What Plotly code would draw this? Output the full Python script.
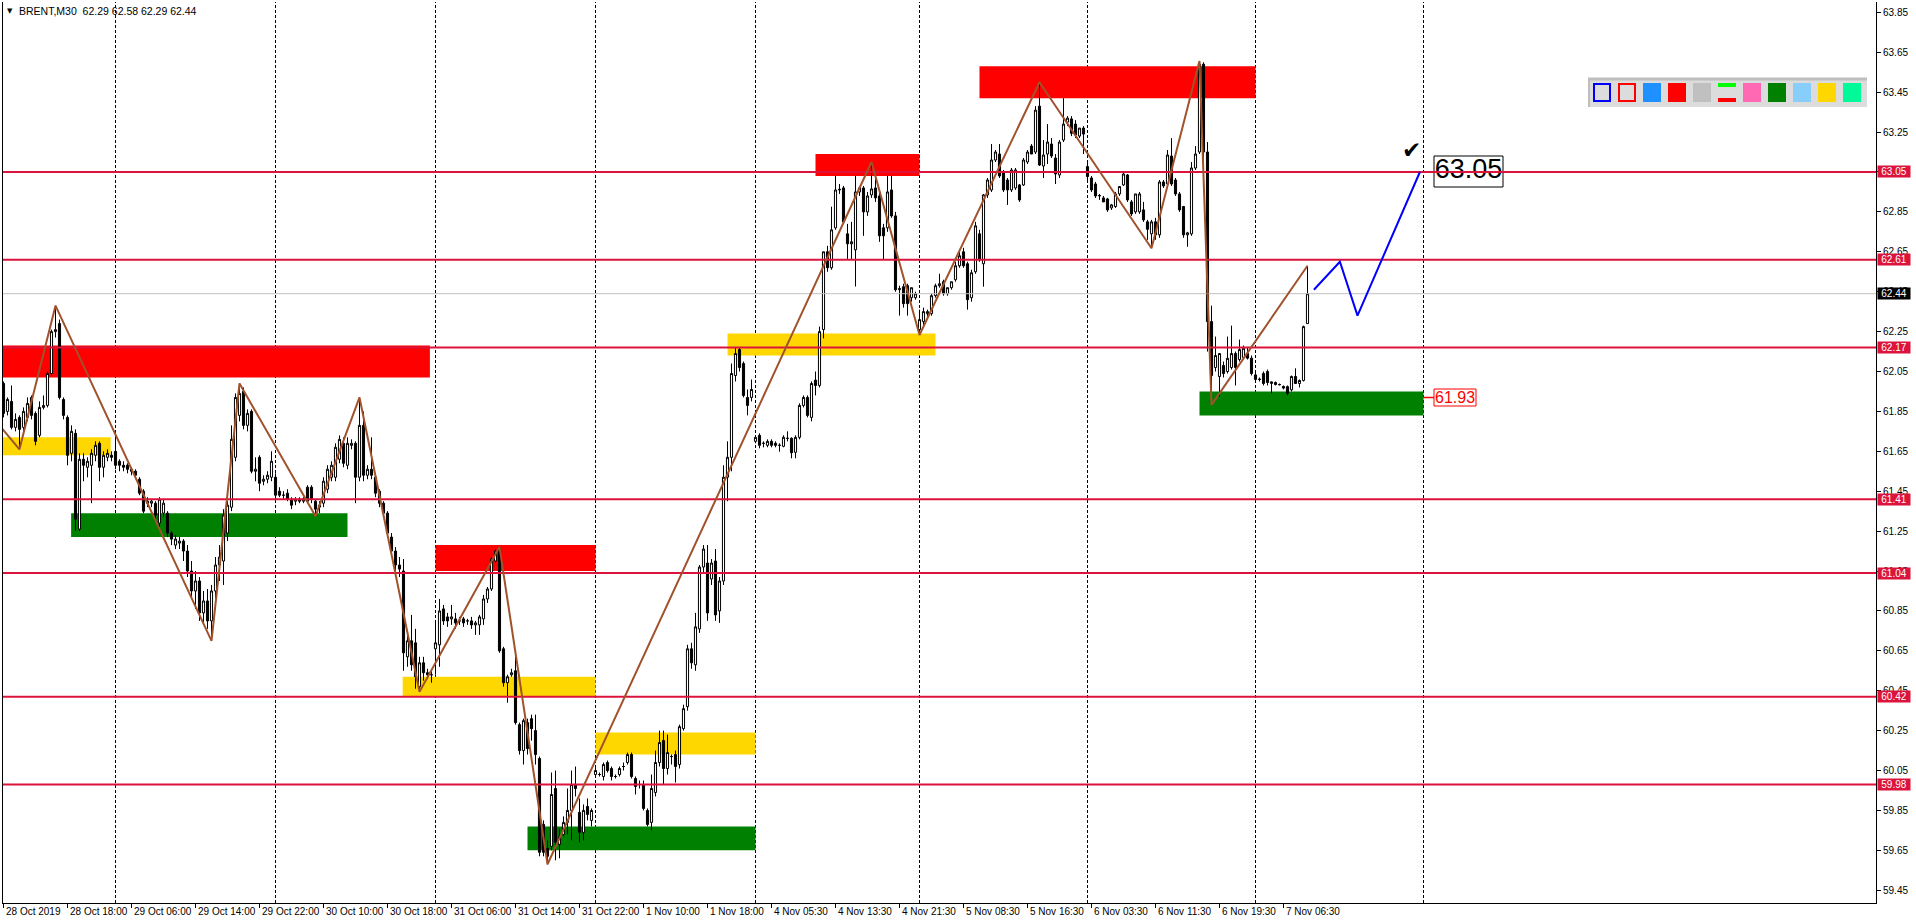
import plotly.graph_objects as go

# ---------------- data (BRENT M30, bar index 0 = 28 Oct 2019 10:00) ----------------
opens = [
    61.99, 61.85, 61.90, 61.77, 61.82, 61.77, 61.82, 61.92, 61.84, 61.73,
    61.87, 61.88, 62.04, 62.25, 62.29, 61.91, 61.82, 61.64, 61.74, 61.26,
    61.61, 61.57, 61.58, 61.63, 61.69, 61.57, 61.62, 61.63, 61.65, 61.60,
    61.58, 61.58, 61.56, 61.55, 61.51, 61.45, 61.40, 61.39, 61.39, 61.29,
    61.34, 61.34, 61.24, 61.18, 61.19, 61.20, 61.15, 61.05, 60.95, 61.00,
    60.84, 60.90, 60.80, 60.95, 61.08, 61.10, 61.24, 61.37, 61.62, 61.83,
    61.95, 61.78, 61.85, 61.55, 61.62, 61.50, 61.51, 61.52, 61.52, 61.45,
    61.43, 61.44, 61.41, 61.40, 61.41, 61.40, 61.47, 61.47, 61.40, 61.37,
    61.39, 61.46, 61.52, 61.52, 61.61, 61.69, 61.58, 61.68, 61.69, 61.52,
    61.78, 61.53, 61.56, 61.52, 61.45, 61.39, 61.34, 61.22, 61.15, 61.08,
    61.05, 60.62, 60.70, 60.69, 60.47, 60.59, 60.54, 60.53, 60.66, 60.68,
    60.86, 60.82, 60.81, 60.81, 60.80, 60.81, 60.80, 60.80, 60.78, 60.78,
    60.81, 60.91, 60.96, 61.10, 61.16, 60.66, 60.49, 60.53, 60.55, 60.28,
    60.15, 60.29, 60.31, 60.25, 60.11, 59.78, 59.66, 59.67, 59.96, 59.68,
    59.73, 59.79, 59.85, 59.98, 59.84, 59.74, 59.87, 59.80, 60.03, 60.03,
    60.02, 60.09, 60.06, 60.02, 60.03, 60.07, 60.09, 60.13, 60.01, 59.98,
    59.98, 59.85, 59.79, 59.94, 60.09, 60.20, 60.06, 60.12, 60.13, 60.08,
    60.26, 60.37, 60.66, 60.58, 60.76, 61.07, 61.09, 61.01, 61.10, 60.85,
    61.00, 61.52, 61.62, 62.03, 62.16, 62.09, 61.92, 61.92, 61.70, 61.73,
    61.69, 61.68, 61.70, 61.69, 61.68, 61.675, 61.715, 61.715, 61.645, 61.72,
    61.88, 61.92, 61.82, 62.007, 61.98, 62.26, 62.65, 62.57, 62.77, 62.96,
    62.97, 62.74, 62.69, 62.66, 62.95, 62.97, 62.85, 62.935, 62.97, 62.93,
    62.77, 62.77, 62.96, 62.83, 62.46, 62.475, 62.48, 62.42, 62.42, 62.26,
    62.30, 62.34, 62.34, 62.43, 62.48, 62.50, 62.44, 62.47, 62.51, 62.58,
    62.65, 62.59, 62.42, 62.55, 62.74, 62.59, 62.935, 62.96, 63.11, 63.14,
    63.05, 63.01, 62.96, 62.97, 62.985, 62.985, 63.10, 63.18, 63.15, 63.38,
    63.08, 63.14, 63.19, 63.12, 63.035, 63.21, 63.30, 63.316, 63.29, 63.23,
    63.27, 63.077, 63.02, 62.99, 62.93, 62.92, 62.915, 62.87, 62.877, 62.94,
    62.985, 63.035, 62.90, 62.85, 62.85, 62.86, 62.80, 62.74, 62.80, 62.735,
    63.00, 62.99, 63.13, 63.01, 62.94, 62.877, 62.735, 62.74, 63.07, 63.15,
    63.59, 63.15, 62.30, 62.07, 62.025, 62.08, 62.05, 62.07, 62.14, 62.11,
    62.12, 62.14, 62.117, 62.033, 62.012, 62.04, 62.05, 61.99, 61.995, 61.985,
    61.975, 61.974, 61.958, 62.025, 61.99, 62.005, 62.29,
]
highs = [
    62.00, 61.92, 61.98, 61.84, 61.83, 61.87, 61.92, 61.93, 61.85, 61.90,
    61.93, 62.05, 62.26, 62.38, 62.31, 61.92, 61.83, 61.78, 61.76, 61.64,
    61.64, 61.62, 61.66, 61.70, 61.70, 61.65, 61.66, 61.65, 61.72, 61.61,
    61.60, 61.59, 61.57, 61.56, 61.52, 61.46, 61.42, 61.41, 61.40, 61.42,
    61.41, 61.35, 61.25, 61.23, 61.22, 61.21, 61.18, 61.10, 61.05, 61.02,
    60.95, 60.96, 60.98, 61.12, 61.18, 61.36, 61.40, 61.78, 61.94, 61.99,
    61.97, 61.86, 61.86, 61.62, 61.63, 61.53, 61.55, 61.65, 61.54, 61.47,
    61.45, 61.46, 61.42, 61.42, 61.42, 61.42, 61.48, 61.48, 61.41, 61.40,
    61.52, 61.58, 61.60, 61.69, 61.73, 61.72, 61.72, 61.71, 61.70, 61.92,
    61.85, 61.58, 61.72, 61.53, 61.46, 61.40, 61.35, 61.24, 61.17, 61.12,
    61.11, 60.74, 60.83, 60.76, 60.62, 60.62, 60.56, 60.55, 60.79, 60.91,
    60.88, 60.84, 60.88, 60.84, 60.82, 60.82, 60.81, 60.82, 60.80, 60.83,
    60.93, 60.97, 61.12, 61.16, 61.17, 60.67, 60.53, 60.56, 60.62, 60.29,
    60.31, 60.31, 60.33, 60.33, 60.12, 59.80, 59.70, 60.04, 60.05, 59.76,
    59.82, 59.96, 60.05, 60.07, 59.91, 59.88, 59.91, 59.86, 60.07, 60.04,
    60.09, 60.10, 60.07, 60.03, 60.07, 60.09, 60.14, 60.14, 60.02, 60.00,
    60.00, 59.86, 60.03, 60.15, 60.25, 60.25, 60.23, 60.13, 60.15, 60.28,
    60.38, 60.68, 60.69, 60.84, 61.08, 61.18, 61.18, 61.11, 61.16, 61.02,
    61.58, 61.70, 62.09, 62.17, 62.17, 62.10, 61.96, 62.01, 61.73, 61.74,
    61.70, 61.71, 61.71, 61.70, 61.69, 61.73, 61.75, 61.72, 61.73, 61.89,
    61.93, 61.93, 62.00, 62.05, 62.275, 62.65, 62.68, 62.876, 63.03, 62.99,
    62.98, 62.79, 62.80, 63.03, 62.98, 62.98, 62.95, 63.10, 63.03, 62.95,
    62.79, 63.03, 63.03, 62.85, 62.48, 62.49, 62.49, 62.47, 62.45, 62.36,
    62.37, 62.36, 62.44, 62.49, 62.54, 62.51, 62.47, 62.50, 62.60, 62.66,
    62.67, 62.60, 62.56, 62.80, 62.76, 62.94, 63.02, 63.19, 63.16, 63.19,
    63.06, 63.02, 63.07, 63.07, 62.99, 63.12, 63.16, 63.19, 63.38, 63.50,
    63.21, 63.29, 63.22, 63.14, 63.21, 63.42, 63.33, 63.33, 63.31, 63.27,
    63.28, 63.10, 63.03, 63.00, 62.94, 62.93, 62.92, 62.89, 62.95, 62.98,
    63.05, 63.04, 62.91, 62.94, 62.95, 62.90, 62.81, 62.81, 62.82, 63.01,
    63.01, 63.16, 63.22, 63.02, 62.95, 62.88, 62.75, 63.10, 63.18, 63.606,
    63.60, 63.20, 62.38, 62.225, 62.14, 62.10, 62.225, 62.28, 62.15, 62.21,
    62.18, 62.17, 62.13, 62.05, 62.02, 62.05, 62.06, 62.00, 62.00, 61.99,
    61.98, 61.98, 62.03, 62.066, 62.01, 62.28, 62.58,
]
lows = [
    61.82, 61.83, 61.76, 61.75, 61.66, 61.74, 61.80, 61.81, 61.68, 61.72,
    61.86, 61.87, 62.03, 62.22, 61.91, 61.81, 61.58, 61.60, 61.25, 61.25,
    61.50, 61.52, 61.39, 61.60, 61.50, 61.52, 61.60, 61.60, 61.56, 61.55,
    61.55, 61.54, 61.53, 61.51, 61.43, 61.34, 61.37, 61.37, 61.31, 61.27,
    61.32, 61.22, 61.18, 61.16, 61.16, 61.10, 61.02, 60.92, 60.86, 60.80,
    60.78, 60.76, 60.70, 60.88, 61.00, 60.98, 61.20, 61.35, 61.60, 61.80,
    61.76, 61.75, 61.54, 61.50, 61.45, 61.48, 61.49, 61.50, 61.40, 61.42,
    61.41, 61.40, 61.36, 61.38, 61.39, 61.39, 61.39, 61.39, 61.325, 61.34,
    61.37, 61.44, 61.50, 61.50, 61.59, 61.57, 61.56, 61.66, 61.39, 61.50,
    61.50, 61.51, 61.51, 61.42, 61.37, 61.32, 61.22, 61.13, 61.05, 61.02,
    60.55, 60.57, 60.55, 60.46, 60.445, 60.50, 60.51, 60.49, 60.53, 60.57,
    60.78, 60.77, 60.78, 60.76, 60.78, 60.77, 60.78, 60.76, 60.73, 60.73,
    60.78, 60.89, 60.95, 61.09, 60.64, 60.47, 60.39, 60.52, 60.28, 60.13,
    60.08, 60.13, 60.20, 60.08, 59.62, 59.62, 59.58, 59.65, 59.60, 59.61,
    59.72, 59.73, 59.70, 59.92, 59.69, 59.70, 59.80, 59.77, 60.02, 60.02,
    60.00, 60.04, 60.00, 60.01, 60.02, 60.05, 60.08, 60.01, 59.93, 59.96,
    59.85, 59.77, 59.75, 59.92, 60.07, 59.98, 60.03, 60.08, 59.99, 60.06,
    60.25, 60.35, 60.56, 60.55, 60.74, 61.04, 60.80, 60.98, 60.80, 60.79,
    60.98, 61.40, 61.55, 62.00, 62.05, 61.92, 61.83, 61.90, 61.69, 61.665,
    61.67, 61.67, 61.67, 61.67, 61.648, 61.67, 61.70, 61.615, 61.615, 61.71,
    61.87, 61.82, 61.80, 61.93, 61.97, 62.216, 62.55, 62.56, 62.76, 62.94,
    62.79, 62.61, 62.61, 62.476, 62.93, 62.73, 62.83, 62.92, 62.90, 62.70,
    62.61, 62.75, 62.82, 62.45, 62.33, 62.37, 62.33, 62.40, 62.41, 62.233,
    62.28, 62.32, 62.33, 62.42, 62.47, 62.43, 62.43, 62.46, 62.50, 62.57,
    62.57, 62.36, 62.40, 62.54, 62.60, 62.475, 62.92, 62.95, 63.10, 63.02,
    62.95, 62.885, 62.95, 62.96, 62.90, 62.98, 63.09, 63.14, 63.14, 63.08,
    63.02, 63.09, 63.12, 62.99, 63.02, 63.20, 63.28, 63.23, 63.22, 63.22,
    63.14, 63.01, 62.95, 62.92, 62.91, 62.90, 62.85, 62.86, 62.87, 62.93,
    62.98, 62.90, 62.83, 62.84, 62.84, 62.80, 62.71, 62.668, 62.71, 62.72,
    62.97, 62.98, 62.98, 62.93, 62.85, 62.72, 62.675, 62.73, 63.06, 63.14,
    63.10, 62.15, 61.883, 62.05, 61.924, 62.02, 62.04, 62.06, 61.98, 62.10,
    62.11, 62.11, 62.03, 62.00, 62.00, 61.98, 61.98, 61.94, 61.98, 61.98,
    61.96, 61.93, 61.95, 61.99, 61.97, 62.00, 62.29,
]
closes = [
    61.84, 61.91, 61.77, 61.81, 61.76, 61.85, 61.89, 61.83, 61.70, 61.87,
    61.88, 62.04, 62.25, 62.26, 61.92, 61.83, 61.63, 61.75, 61.31, 61.61,
    61.58, 61.60, 61.64, 61.68, 61.57, 61.63, 61.64, 61.62, 61.58, 61.58,
    61.57, 61.56, 61.55, 61.53, 61.44, 61.35, 61.39, 61.40, 61.33, 61.41,
    61.39, 61.24, 61.21, 61.21, 61.20, 61.15, 61.05, 60.95, 61.00, 60.84,
    60.90, 60.80, 60.95, 61.08, 61.12, 61.33, 61.38, 61.71, 61.92, 61.94,
    61.78, 61.84, 61.55, 61.56, 61.49, 61.51, 61.53, 61.60, 61.43, 61.43,
    61.43, 61.41, 61.38, 61.41, 61.40, 61.41, 61.40, 61.41, 61.36, 61.38,
    61.50, 61.56, 61.58, 61.67, 61.71, 61.59, 61.69, 61.69, 61.52, 61.78,
    61.53, 61.56, 61.53, 61.44, 61.39, 61.34, 61.24, 61.15, 61.08, 61.06,
    60.64, 60.70, 60.58, 60.52, 60.59, 60.54, 60.53, 60.53, 60.69, 60.85,
    60.80, 60.80, 60.82, 60.79, 60.80, 60.79, 60.80, 60.78, 60.79, 60.82,
    60.91, 60.96, 61.11, 61.15, 60.65, 60.49, 60.52, 60.54, 60.29, 60.15,
    60.30, 60.16, 60.26, 60.13, 59.64, 59.64, 59.62, 59.93, 59.69, 59.72,
    59.79, 59.85, 59.98, 59.96, 59.74, 59.85, 59.83, 59.85, 60.05, 60.03,
    60.08, 60.05, 60.02, 60.02, 60.06, 60.07, 60.13, 60.02, 59.97, 59.98,
    59.86, 59.78, 59.96, 60.09, 60.19, 60.06, 60.14, 60.12, 60.07, 60.27,
    60.36, 60.66, 60.59, 60.77, 61.07, 61.16, 60.84, 61.09, 60.83, 61.00,
    61.52, 61.62, 62.04, 62.14, 62.07, 61.93, 61.88, 61.96, 61.72, 61.68,
    61.69, 61.70, 61.68, 61.68, 61.68, 61.72, 61.715, 61.643, 61.72, 61.88,
    61.92, 61.83, 61.99, 61.98, 62.25, 62.65, 62.57, 62.76, 62.96, 62.963,
    62.80, 62.69, 62.70, 62.95, 62.97, 62.85, 62.93, 62.965, 62.92, 62.73,
    62.73, 62.95, 62.83, 62.46, 62.465, 62.39, 62.39, 62.47, 62.44, 62.31,
    62.35, 62.35, 62.43, 62.48, 62.49, 62.44, 62.47, 62.50, 62.58, 62.63,
    62.58, 62.41, 62.545, 62.78, 62.61, 62.935, 63.01, 63.11, 63.15, 63.03,
    62.96, 62.96, 63.06, 63.06, 62.91, 63.11, 63.15, 63.14, 63.36, 63.085,
    63.135, 63.20, 63.13, 63.04, 63.20, 63.29, 63.32, 63.244, 63.236, 63.27,
    63.24, 63.027, 62.96, 62.93, 62.932, 62.90, 62.86, 62.885, 62.94, 62.977,
    63.04, 62.91, 62.84, 62.94, 62.94, 62.81, 62.763, 62.80, 62.735, 63.00,
    62.98, 63.135, 62.99, 62.94, 62.86, 62.735, 62.745, 63.07, 63.14, 63.59,
    63.15, 62.30, 62.03, 62.13, 62.14, 62.04, 62.116, 62.14, 62.07, 62.16,
    62.166, 62.117, 62.04, 62.01, 62.010, 61.99, 61.995, 61.998, 61.985, 61.984,
    61.967, 61.941, 62.025, 61.99, 62.005, 62.275, 62.44,
]

x_label_bars = [0, 16, 32, 48, 64, 80, 96, 112, 128, 144, 160, 176, 192, 208,
                224, 240, 256, 272, 288, 304, 320]
x_label_texts = ["28 Oct 2019", "28 Oct 18:00", "29 Oct 06:00", "29 Oct 14:00",
                 "29 Oct 22:00", "30 Oct 10:00", "30 Oct 18:00", "31 Oct 06:00",
                 "31 Oct 14:00", "31 Oct 22:00", "1 Nov 10:00", "1 Nov 18:00",
                 "4 Nov 05:30", "4 Nov 13:30", "4 Nov 21:30", "5 Nov 08:30",
                 "5 Nov 16:30", "6 Nov 03:30", "6 Nov 11:30", "6 Nov 19:30",
                 "7 Nov 06:30"]
y_tick_vals = [59.45, 59.65, 59.85, 60.05, 60.25, 60.45, 60.65, 60.85, 61.05,
               61.25, 61.45, 61.65, 61.85, 62.05, 62.25, 62.45, 62.65, 62.85,
               63.05, 63.25, 63.45, 63.65, 63.85]

level_prices = [63.05, 62.61, 62.17, 61.41, 61.04, 60.42, 59.98]
bid_price = 62.44
separator_bars = [28, 68, 108, 148, 188, 229, 271, 313, 355]

# zones: start bar, end bar, low price, high price, colour
zone_x0 = [-1, 108, 203, 244, -1, 99.8, 148, 181, 16.9, 131, 299]
zone_x1 = [106.6, 148, 229, 313, 26.8, 148, 188, 233, 86, 188, 355]
zone_lo = [62.02, 61.05, 63.03, 63.42, 61.63, 60.42, 60.13, 62.13, 61.22, 59.65, 61.83]
zone_hi = [62.18, 61.18, 63.14, 63.58, 61.72, 60.52, 60.24, 62.24, 61.34, 59.77, 61.95]
zone_col = ["#FF0000", "#FF0000", "#FF0000", "#FF0000", "#FFD700", "#FFD700",
            "#FFD700", "#FFD700", "#008000", "#008000", "#008000"]

zig_bars = [-0.4, 4, 13, 52, 59, 78, 89, 104, 124, 136, 217, 229, 259, 287, 299, 302, 326]
zig_prices = [61.765, 61.66, 62.38, 60.70, 61.99, 61.325, 61.92, 60.445, 61.17,
              59.58, 63.10, 62.233, 63.50, 62.668, 63.606, 61.883, 62.58]

fc_bars = [327.6, 334.1, 338.5, 354.1]
fc_prices = [62.46, 62.60, 62.33, 63.05]

target_text = "63.05"
stop_text = "61.93"
title_text = "BRENT,M30\u00a0\u00a062.29 62.58 62.29 62.44"

palette_colors = ["#0000FF", "#FF0000", "#1E90FF", "#FF0000", "#C0C0C0", "split",
                  "#FF69B4", "#008000", "#87CEFA", "#FFD700", "#00FA9A"]

# ---------------- geometry helpers ----------------
W, H = 1916, 923
PX_L, PX_R, PX_T, PX_B = 2, 1876, 2, 903
X_RANGE = [-0.375, 468.125]
Y_RANGE = [59.386, 63.902]


def fx(px):
    return (px - PX_L) / (PX_R - PX_L)


def fy(py):
    return (PX_B - py) / (PX_B - PX_T)


def bar_of(px):
    return X_RANGE[0] + (px - PX_L) / (PX_R - PX_L) * (X_RANGE[1] - X_RANGE[0])


def price_of(py):
    return Y_RANGE[1] - (py - PX_T) / (PX_B - PX_T) * (Y_RANGE[1] - Y_RANGE[0])


FONT = "Liberation Sans"
CRIMSON = "#DC143C"

fig = go.Figure()

fig.add_trace(go.Candlestick(
    x=list(range(len(opens))), open=opens, high=highs, low=lows, close=closes,
    increasing=dict(line=dict(color="black", width=1), fillcolor="white"),
    decreasing=dict(line=dict(color="black", width=1), fillcolor="black"),
    whiskerwidth=0, hoverinfo="skip", showlegend=False))

# big target text (drawn before the level lines so the line crosses it)
fig.add_trace(go.Scatter(
    x=[bar_of(1468.5)], y=[price_of(171.5)], mode="text", text=[target_text],
    textfont=dict(size=27, color="black", family=FONT),
    textposition="middle center", hoverinfo="skip", showlegend=False))

# bid line
fig.add_trace(go.Scatter(x=[X_RANGE[0] - 1, X_RANGE[1] + 1], y=[bid_price, bid_price],
                         mode="lines", line=dict(color="#C0C0C0", width=1),
                         hoverinfo="skip", showlegend=False))
for p in level_prices:
    fig.add_trace(go.Scatter(x=[X_RANGE[0] - 1, X_RANGE[1] + 1], y=[p, p], mode="lines",
                             line=dict(color=CRIMSON, width=2),
                             hoverinfo="skip", showlegend=False))

fig.add_trace(go.Scatter(x=zig_bars, y=zig_prices, mode="lines",
                         line=dict(color="#A0522D", width=2),
                         hoverinfo="skip", showlegend=False))
fig.add_trace(go.Scatter(x=fc_bars, y=fc_prices, mode="lines",
                         line=dict(color="#0000FF", width=2),
                         hoverinfo="skip", showlegend=False))

shapes = []
for x0, x1, lo, hi, c in zip(zone_x0, zone_x1, zone_lo, zone_hi, zone_col):
    shapes.append(dict(type="rect", xref="x", yref="y", x0=x0, x1=x1, y0=lo, y1=hi,
                       fillcolor=c, line=dict(width=0), layer="below"))
for b in separator_bars:
    shapes.append(dict(type="line", xref="x", yref="paper", x0=b, x1=b, y0=0, y1=1,
                       line=dict(color="black", width=1, dash="3px,2px"), layer="below"))

# target box
shapes.append(dict(type="rect", xref="paper", yref="paper", x0=fx(1434), x1=fx(1503),
                   y0=fy(187), y1=fy(156), fillcolor="white",
                   line=dict(color="black", width=1), layer="below"))
# stop box + connector
shapes.append(dict(type="rect", xref="paper", yref="paper", x0=fx(1434), x1=fx(1476),
                   y0=fy(406), y1=fy(389), fillcolor="white",
                   line=dict(color="#FF0000", width=1), layer="above"))
shapes.append(dict(type="line", xref="paper", yref="paper", x0=fx(1423), x1=fx(1434),
                   y0=fy(397.5), y1=fy(397.5), line=dict(color="#FF0000", width=1.5),
                   layer="above"))

# left frame line
shapes.append(dict(type="line", xref="paper", yref="paper", x0=fx(2.5), x1=fx(2.5), y0=0, y1=1,
                   line=dict(color="black", width=1), layer="above"))

# colour palette panel (top right)
shapes.append(dict(type="rect", xref="paper", yref="paper", x0=fx(1588), x1=fx(1867),
                   y0=fy(107), y1=fy(78), fillcolor="#DCDCDC",
                   line=dict(width=0), layer="above"))
shapes.append(dict(type="line", xref="paper", yref="paper", x0=fx(1588), x1=fx(1867),
                   y0=fy(79), y1=fy(79), line=dict(color="#BEBEBE", width=3), layer="above"))
shapes.append(dict(type="line", xref="paper", yref="paper", x0=fx(1589), x1=fx(1589),
                   y0=fy(107), y1=fy(78), line=dict(color="#BEBEBE", width=2), layer="above"))
for k, c in enumerate(palette_colors):
    x0 = 1593 + 25 * k
    x1 = x0 + 18
    if k < 2:
        shapes.append(dict(type="rect", xref="paper", yref="paper", x0=fx(x0 + 1), x1=fx(x1 - 1),
                           y0=fy(101), y1=fy(84), fillcolor="rgba(0,0,0,0)",
                           line=dict(color=c, width=2), layer="above"))
    elif c == "split":
        shapes.append(dict(type="rect", xref="paper", yref="paper", x0=fx(x0), x1=fx(x1),
                           y0=fy(87), y1=fy(83), fillcolor="#00FF00",
                           line=dict(width=0), layer="above"))
        shapes.append(dict(type="rect", xref="paper", yref="paper", x0=fx(x0), x1=fx(x1),
                           y0=fy(102), y1=fy(98), fillcolor="#FF0000",
                           line=dict(width=0), layer="above"))
    else:
        shapes.append(dict(type="rect", xref="paper", yref="paper", x0=fx(x0), x1=fx(x1),
                           y0=fy(102), y1=fy(83), fillcolor=c,
                           line=dict(width=0), layer="above"))

annotations = []
for b, t in zip(x_label_bars, x_label_texts):
    annotations.append(dict(x=b, y=0, xref="x", yref="paper", text=t, showarrow=False,
                            xanchor="left", yanchor="top", xshift=0, yshift=-1,
                            font=dict(family=FONT, size=10, color="black")))
for p in level_prices:
    annotations.append(dict(x=1, y=p, xref="paper", yref="y", text=f"{p:.2f}",
                            showarrow=False, xanchor="left", yanchor="middle", xshift=1,
                            bgcolor=CRIMSON, borderpad=0, width=32, height=11,
                            font=dict(family=FONT, size=10, color="white")))
annotations.append(dict(x=1, y=bid_price, xref="paper", yref="y", text=f"{bid_price:.2f}",
                        showarrow=False, xanchor="left", yanchor="middle", xshift=1,
                        bgcolor="black", borderpad=0, width=32, height=11,
                        font=dict(family=FONT, size=10, color="white")))
annotations.append(dict(x=fx(1455), y=fy(397.5), xref="paper", yref="paper", text=stop_text,
                        showarrow=False, xanchor="center", yanchor="middle",
                        font=dict(family=FONT, size=16, color="#FF0000")))
annotations.append(dict(x=fx(1411), y=fy(150), xref="paper", yref="paper", text="\u2714",
                        showarrow=False, xanchor="center", yanchor="middle",
                        font=dict(family="DejaVu Sans", size=23, color="black")))
annotations.append(dict(x=fx(5), y=fy(11), xref="paper", yref="paper", text="\u25bc",
                        showarrow=False, xanchor="left", yanchor="middle",
                        font=dict(family="DejaVu Sans", size=7, color="black")))
annotations.append(dict(x=fx(17), y=fy(11), xref="paper", yref="paper", text=title_text,
                        showarrow=False, xanchor="left", yanchor="middle",
                        font=dict(family=FONT, size=10.5, color="black")))

fig.update_layout(
    width=W, height=H,
    margin=dict(l=PX_L, r=W - PX_R, t=PX_T, b=H - PX_B, pad=0),
    paper_bgcolor="white", plot_bgcolor="white",
    showlegend=False, hovermode=False, boxgap=0.25,
    shapes=shapes, annotations=annotations,
    xaxis=dict(range=X_RANGE, showgrid=False, zeroline=False, showline=True,
               linecolor="black", linewidth=1, ticks="outside", ticklen=4,
               tickcolor="black", tickvals=x_label_bars, showticklabels=False,
               rangeslider=dict(visible=False), fixedrange=True),
    yaxis=dict(range=Y_RANGE, side="right", showgrid=False, zeroline=False,
               showline=True, linecolor="black", linewidth=1, ticks="outside",
               ticklen=4, tickcolor="black", tickvals=y_tick_vals,
               ticktext=[f"{v:.2f}" for v in y_tick_vals],
               tickfont=dict(family=FONT, size=10, color="black"), fixedrange=True),
)

fig.write_html("out.html", config={"displayModeBar": False},
               post_script="document.body.style.margin='0';document.body.style.overflow='hidden';")
